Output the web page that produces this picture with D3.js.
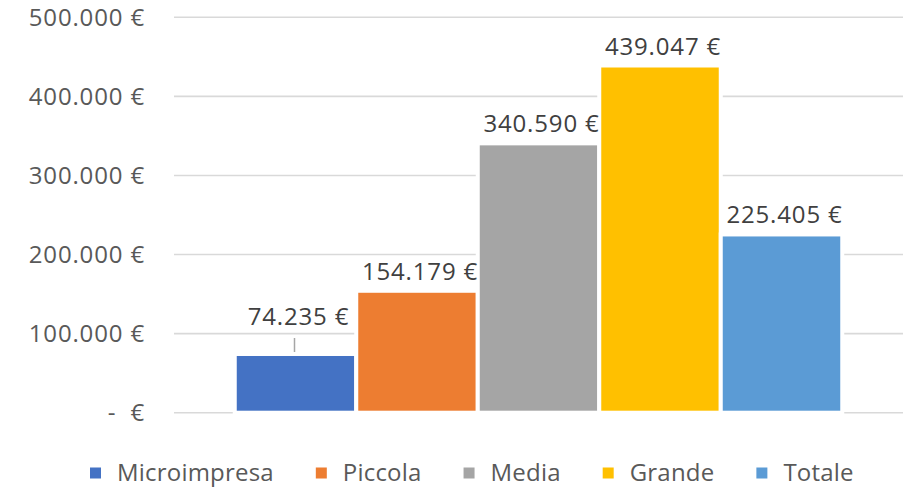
<!DOCTYPE html>
<html>
<head>
<meta charset="utf-8">
<script src="https://cdn.jsdelivr.net/npm/d3@7"></script>
<style>
  html, body { margin: 0; padding: 0; background: #fff; }
  svg { display: block; }
  text { font-family: "Open Sans", "Liberation Sans", Arial, sans-serif; }
</style>
</head>
<body>
<svg id="chart" width="909" height="487"></svg>
<script>
// ---- Data ----
const series = ["Microimpresa", "Piccola", "Media", "Grande", "Totale"];
const values = [74235, 154179, 340590, 439047, 225405];
const colors = ["#4472C4", "#ED7D31", "#A5A5A5", "#FFC000", "#5B9BD5"];
const yTicks = [0, 100000, 200000, 300000, 400000, 500000];

// ---- Layout ----
const W = 909, H = 487;
const plot = { left: 174, right: 903, top: 17.3, bottom: 412.7 };
const FS = 24;
const NUM_LS = 0.85;
const svg = d3.select("#chart");

const fmt = v => d3.format(",")(v).replace(/,/g, ".") + " €";

const x = d3.scaleBand().domain(series).range([plot.left, plot.right])
  .paddingInner(0).paddingOuter(0.5);
const y = d3.scaleLinear().domain([0, 500000]).range([plot.bottom, plot.top]);

// gridlines
svg.append("g").selectAll("line").data(yTicks).join("line")
  .attr("x1", plot.left).attr("x2", plot.right)
  .attr("y1", d => y(d)).attr("y2", d => y(d))
  .attr("stroke", "#D9D9D9").attr("stroke-width", 1.6);

// y labels
const yl = svg.append("g").attr("font-size", FS).attr("fill", "#595959")
  .attr("letter-spacing", NUM_LS);
yTicks.forEach(t => {
  if (t === 0) {
    yl.append("text").attr("x", 112).attr("y", y(t)).attr("dy", "0.35em")
      .attr("text-anchor", "middle").text("-");
    yl.append("text").attr("x", 145).attr("y", y(t)).attr("dy", "0.35em")
      .attr("text-anchor", "end").text("€");
  } else {
    yl.append("text").attr("x", 145).attr("y", y(t)).attr("dy", "0.35em")
      .attr("text-anchor", "end").text(fmt(t));
  }
});

// bars
const data = series.map((s, i) => ({ s, v: values[i], c: colors[i] }));
svg.append("g").selectAll("rect").data(data).join("rect")
  .attr("x", d => x(d.s)).attr("width", x.bandwidth())
  .attr("y", d => y(d.v)).attr("height", d => y(0) - y(d.v))
  .attr("fill", d => d.c).attr("stroke", "#fff").attr("stroke-width", 4);

// data labels (first label is lifted above the 100k gridline with a leader line)
const liftedLabel = "Microimpresa";
const lab = svg.append("g").attr("font-size", FS).attr("fill", "#404040")
  .attr("text-anchor", "middle").attr("letter-spacing", NUM_LS);
data.forEach(d => {
  const cx = x(d.s) + x.bandwidth() / 2;
  let by = y(d.v) - 11;
  if (d.s === liftedLabel) {
    by = y(d.v) - 29;
    svg.append("line").attr("x1", cx - 1).attr("x2", cx - 1)
      .attr("y1", by + 13).attr("y2", y(d.v) - 2)
      .attr("stroke", "#A6A6A6").attr("stroke-width", 1.5);
  }
  lab.append("text").attr("x", cx + 3).attr("y", by).text(fmt(d.v));
});

// legend
const leg = svg.append("g").attr("font-size", FS).attr("fill", "#595959")
  .attr("letter-spacing", 0.2);
let lx = 90;
const ly = 472.5;
data.forEach(d => {
  leg.append("rect").attr("x", lx).attr("y", ly - 5).attr("width", 11).attr("height", 11)
    .attr("fill", d.c);
  const t = leg.append("text").attr("x", lx + 27).attr("y", ly).attr("dy", "0.35em").text(d.s);
  const w = t.node().getComputedTextLength();
  lx = lx + 27 + w + 42;
});
</script>
</body>
</html>
